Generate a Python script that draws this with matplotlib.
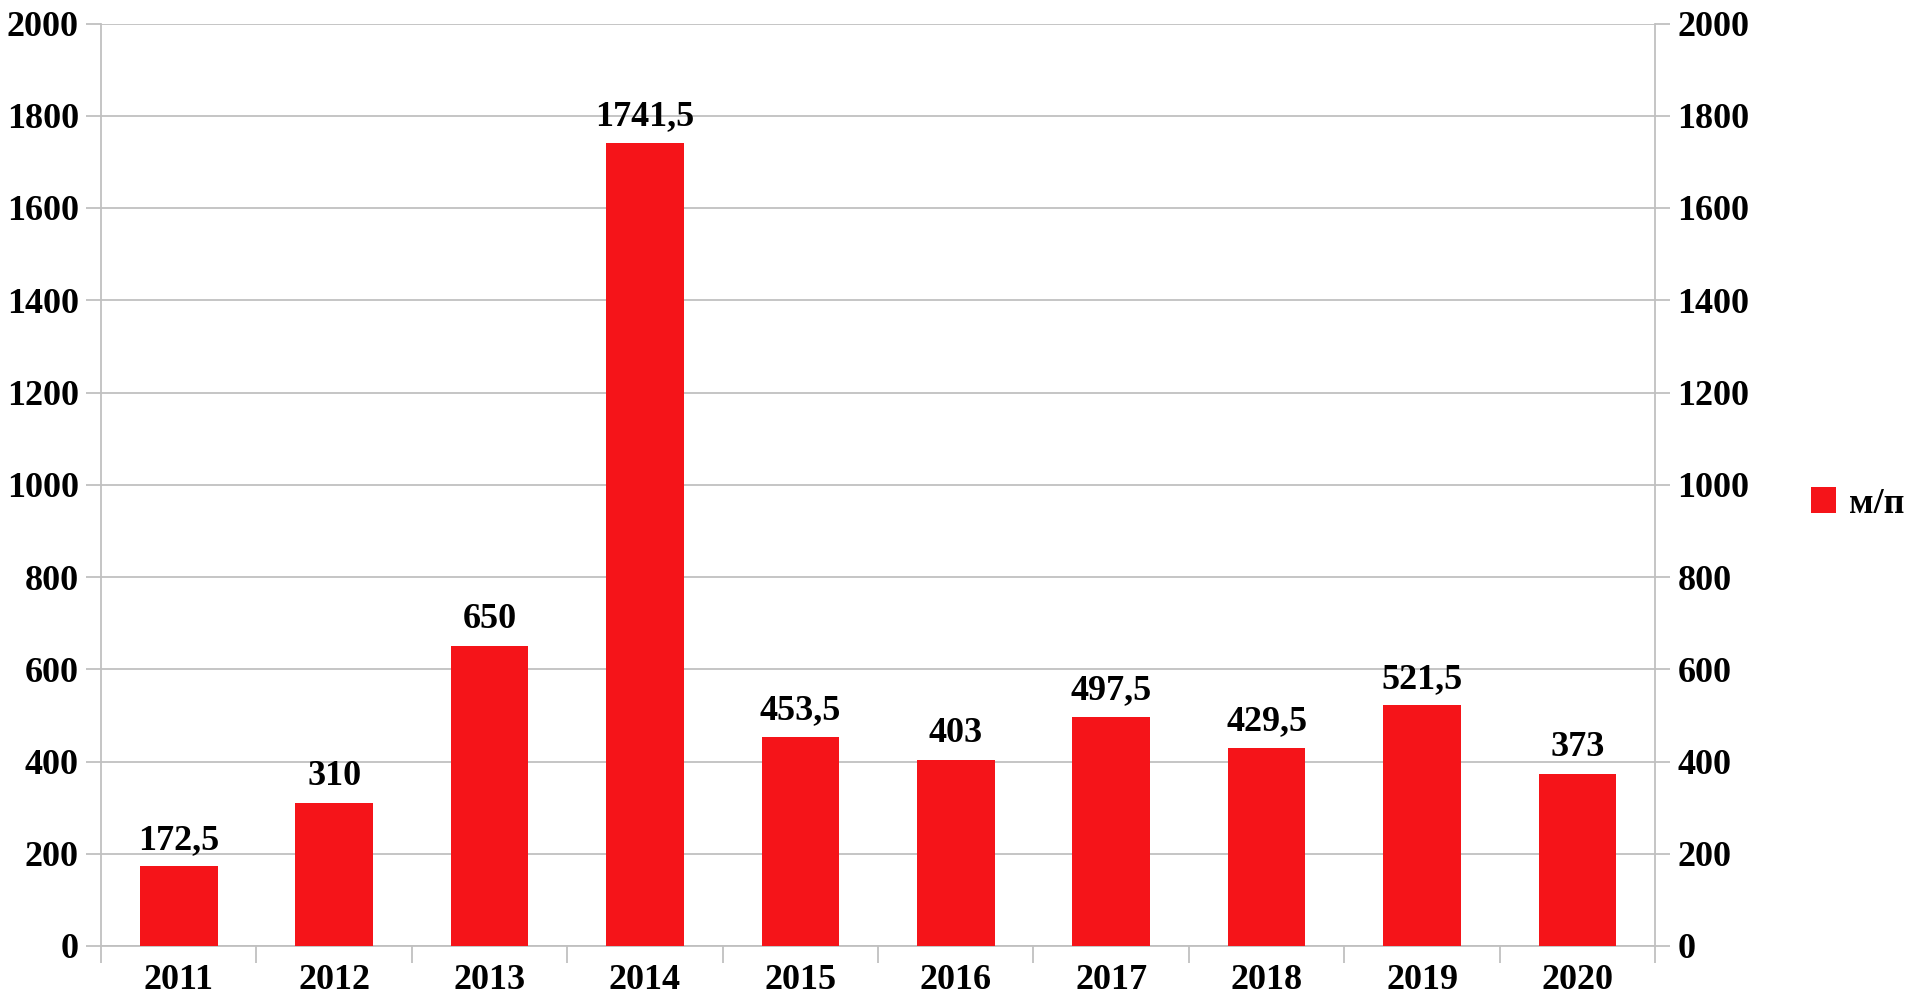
import numpy as np
import matplotlib.pyplot as plt

# Дані
years = ['2011', '2012', '2013', '2014', '2015', '2016', '2017', '2018', '2019', '2020']
values = [172.5, 310, 650, 1741.5, 453.5, 403, 497.5, 429.5, 521.5, 373]
labels = ['172,5', '310', '650', '1741,5', '453,5', '403', '497,5', '429,5', '521,5', '373']
series_name = 'м/п'

plt.rcParams['font.family'] = ['Liberation Serif', 'DejaVu Serif']
plt.rcParams['font.weight'] = 'bold'

grey = '#c0c0c0'
red = '#f51419'
fs = 26

fig = plt.figure(figsize=(19.25, 10), dpi=100)
ax = fig.add_axes([0.0525, 0.054, 0.8073, 0.9225])

x = np.arange(len(years))
bars = ax.bar(x, values, width=0.5, color=red, label=series_name, zorder=3)

ax.set_xlim(-0.5, len(years) - 0.5)
ax.set_ylim(0, 2000)
ax.set_yticks(np.arange(0, 2001, 200))
ax.set_xticks(x)
ax.set_xticklabels(years)
ax.set_xticks(np.arange(-0.5, len(years), 1), minor=True)
ax.grid(axis='y', color=grey, linewidth=1.3, zorder=0)

for s in ['left', 'right', 'bottom']:
    ax.spines[s].set_color(grey)
    ax.spines[s].set_linewidth(1.3)
ax.spines['top'].set_visible(False)

ax.tick_params(axis='x', which='major', length=0, pad=13, labelsize=fs)
ax.tick_params(axis='x', which='minor', length=12, color=grey, width=1.3)
ax.tick_params(axis='y', length=11, color=grey, width=1.3, labelsize=fs, pad=5)

# правая ось
ax2 = ax.twinx()
ax2.set_ylim(0, 2000)
ax2.set_yticks(np.arange(0, 2001, 200))
for s in ['left', 'right', 'bottom', 'top']:
    ax2.spines[s].set_visible(False)
ax2.tick_params(axis='y', length=11, color=grey, width=1.3, labelsize=fs, pad=5)

# подписи значений
for xi, v, lab in zip(x, values, labels):
    ax.annotate(lab, (xi, v), xytext=(0, 7), textcoords='offset points',
                ha='center', va='bottom', fontsize=fs, fontweight='bold')

fig.legend(handles=[bars], labels=[series_name], loc='center left',
           bbox_to_anchor=(0.924, 0.496), frameon=False, fontsize=fs,
           handlelength=0.7, handleheight=0.7, handletextpad=0.35)

plt.savefig('out.png', dpi=100)
